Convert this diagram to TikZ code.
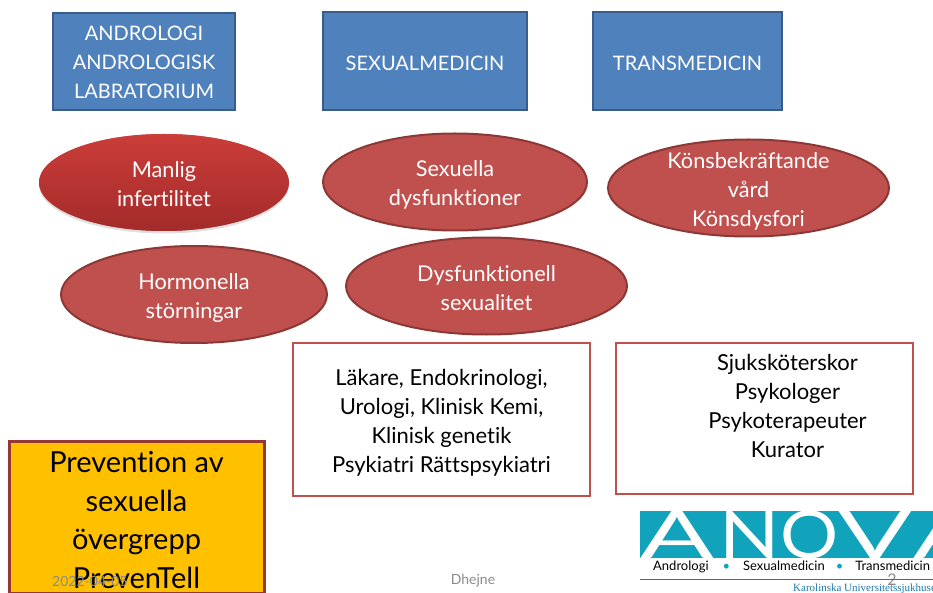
\documentclass[tikz,border=0pt]{standalone}
\usepackage{fontspec}
\setmainfont{Lato}[Ligatures=NoCommon]
\newcommand\linedrop[1]{\rule{0pt}{#1}}
\usetikzlibrary{positioning,shapes.geometric,shadows}
\definecolor{topblue}{HTML}{4F81BD}
\definecolor{topedge}{HTML}{385D8A}
\definecolor{ovalred}{HTML}{C0504D}
\definecolor{ovaledge}{HTML}{8C3836}
\definecolor{manligtop}{HTML}{CB3D39}
\definecolor{manligbot}{HTML}{A32B2A}
\definecolor{prevorange}{HTML}{FFC000}
\definecolor{prevedge}{HTML}{953735}
\definecolor{logoteal}{HTML}{12A3BC}
\definecolor{logoline}{HTML}{1F78A8}
\definecolor{footgray}{HTML}{8B8B8B}
\begin{document}
\begin{tikzpicture}[
        x=1pt, y=1pt,
        topbox/.style={draw=topedge, line width=2pt, fill=topblue, text=white, align=center, outer sep=0pt,
            minimum height=97pt, font=\fontsize{20}{29}\selectfont},
        oval/.style={ellipse, draw=ovaledge, line width=2pt, fill=ovalred, text=white, align=center, outer sep=0pt,
            inner sep=-15pt, minimum height=97pt, font=\fontsize{21.7}{29}\selectfont},
        staffbox/.style={draw=ovalred, line width=2pt, fill=white, minimum width=297pt, outer sep=0pt},
        stafftext/.style={align=center, font=\fontsize{22}{29}\selectfont},
        footer/.style={text=footgray, font=\fontsize{14}{16}\selectfont, inner sep=0pt}
        ]
        \useasboundingbox (0,0) rectangle (933,-593);

        \node[topbox, minimum width=182pt] (andro) at (144,-61.5) {\linedrop{17pt}ANDROLOGI\\ANDROLOGISK\\LABRATORIUM};
        \node[topbox, right=88pt of andro, minimum width=204pt, minimum height=98pt] (sexual) {\linedrop{19pt}SEXUALMEDICIN};
        \node[topbox, right=66pt of sexual, minimum width=189pt, minimum height=98pt] (trans) {\linedrop{19pt}TRANSMEDICIN};

        \node[oval, below=24pt of andro, xshift=20pt, minimum width=250pt, draw=none, top color=manligtop, bottom color=manligbot,
            drop shadow={opacity=0.25, shadow xshift=0pt, shadow yshift=-2.5pt}] (manlig) {\linedrop{20pt}Manlig\\infertilitet};
        \node[oval, below=23pt of sexual, xshift=30pt, minimum width=264pt] (sexuella) {\linedrop{22pt}Sexuella\\dysfunktioner};
        \node[oval, below=29pt of trans, xshift=61pt, minimum width=281pt] (kons) {\linedrop{23pt}Könsbekräftande\\vård\\Könsdysfori};
        \node[oval, below=15pt of manlig, xshift=30pt, minimum width=266pt] (hormon) {\linedrop{22pt}Hormonella\\störningar};
        \node[oval, below=7pt of sexuella, xshift=31.5pt, minimum width=281pt] (dysf) {\linedrop{20pt}Dysfunktionell\\sexualitet};

        \node[staffbox, stafftext, below=8pt of dysf, xshift=-45pt, minimum height=153pt] (lakare) {\linedrop{23pt}Läkare, Endokrinologi,\\Urologi, Klinisk Kemi,\\Klinisk genetik\\Psykiatri Rättspsykiatri};
        \node[staffbox, right=26pt of lakare, yshift=1pt, minimum height=151pt] (sjuk) {};
        \node[stafftext, below=0pt of sjuk.north, xshift=23pt, yshift=-8pt] (sjuktext) {Sjuksköterskor\\Psykologer\\Psykoterapeuter\\Kurator};

        \node[draw=prevedge, line width=3pt, fill=prevorange, align=center, outer sep=0pt, inner sep=0pt, minimum width=255pt, minimum height=152pt,
            font=\fontsize{29}{38.7}\selectfont] (prev) at (136.5,-517) {\linedrop{27pt}Prevention av\\sexuella\\övergrepp\\PrevenTell};

        \node[footer, anchor=west] (datum) at (52,-581) {2022-04-05};
        \node[footer] (dhejne) at (473,-581) {Dhejne};
        \node[footer, font=\fontsize{16}{18}\selectfont] (sidnr) at (892,-580) {2};

        \node[fill=logoteal, minimum width=293pt, minimum height=47pt, inner sep=0pt, outer sep=0pt, anchor=north west] (logo) at (640,-511) {};
        \begin{scope}[every node/.style={text=white, inner sep=0pt, font=\fontspec{Lato}\fontsize{66}{66}\selectfont}]
            \clip (logo.south west) rectangle (logo.north east);
            \node (la) at (677,-534.5) {\scalebox{1.65}[1]{A}};
            \node (ln) at (750,-534.5) {\scalebox{1.2}[1]{N}};
            \node (lo) at (810,-534.5) {\scalebox{1.1}[1]{O}};
            \node (lv) at (875,-534.5) {\scalebox{1.65}[1]{V}};
            \node (lb) at (950,-534.5) {\scalebox{1.65}[1]{A}};
        \end{scope}
        \node[inner sep=0pt, font=\fontsize{13}{14}\selectfont, anchor=west] (logotext) at (653,-567) {Andrologi\hspace{14pt}\textcolor{logoteal}{•}\hspace{13pt}Sexualmedicin\hspace{11pt}\textcolor{logoteal}{•}\hspace{12pt}Transmedicin};
        \coordinate (linel) at (640,-579);
        \coordinate (liner) at (933,-579);
        \draw[logoline, line width=1pt] (linel) -- (liner);
        \node[inner sep=0pt, text=logoline, font=\fontspec{Liberation Serif}\fontsize{11}{13}\selectfont, anchor=west] (karolinska) at (793,-589) {Karolinska Universitetssjukhuset};
    \end{tikzpicture}
\end{document}
